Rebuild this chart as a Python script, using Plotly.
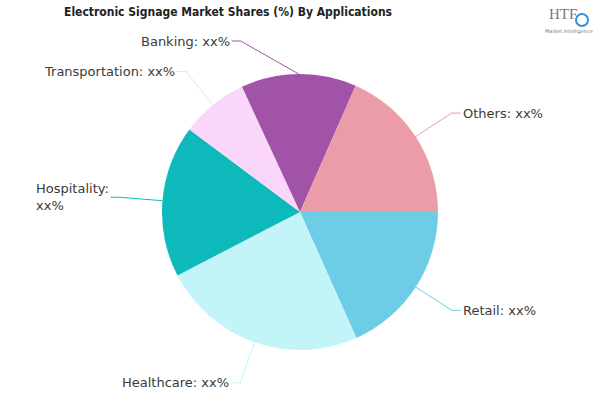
import math
import plotly.graph_objects as go

# ---- data ----
labels = ["Retail", "Healthcare", "Hospitality", "Transportation", "Banking", "Others"]
shares = [18.3, 24.1, 17.8, 7.9, 13.5, 18.4]
value_text = ["xx%", "xx%", "xx%", "xx%", "xx%", "xx%"]
colors = ["#6ecde6", "#c3f5f8", "#0eb9bc", "#fad7fa", "#a153a7", "#eb9ca8"]
title_text = "Electronic Signage Market Shares (%) By Applications"

# ---- layout constants (pixels) ----
W, H = 600, 400
CX, CY, R = 300, 212, 138
LABEL_R = 181          # radius of label circle
GAP = 9                # horizontal connector length
TOP_LIMIT = 41         # minimum label y
FONT = "DejaVu Sans, Verdana, sans-serif"
TXT_COLOR = "#3a3a3a"
CHAR_W = 7.4           # rough char width for wrapping


def px(x):
    return x / W


def py(y):
    return 1 - y / H


fig = go.Figure()
fig.add_trace(go.Pie(
    labels=labels,
    values=shares,
    sort=False,
    direction="clockwise",
    rotation=90,
    marker=dict(colors=colors, line=dict(width=0)),
    textinfo="none",
    hoverinfo="label+percent",
    showlegend=False,
    domain=dict(x=[px(CX - R), px(CX + R)], y=[py(CY + R), py(CY - R)]),
))

annotations = []
shapes = []
total = sum(shares)
cum = 0.0
for lab, v, vt, col in zip(labels, shares, value_text, colors):
    a0 = cum / total * 360
    cum += v
    a1 = cum / total * 360
    mid = math.radians((a0 + a1) / 2)
    ex = CX + R * math.cos(mid)
    ey = CY + R * math.sin(mid)
    ly = CY + LABEL_R * math.sin(mid)
    ly = max(ly, TOP_LIMIT)
    dx = math.sqrt(max(LABEL_R ** 2 - (ly - CY) ** 2, 0))
    right = math.cos(mid) >= 0
    lx = CX + dx if right else CX - dx
    tx = lx + GAP if right else lx - GAP
    text = f"{lab}: {vt}"
    avail = (W - tx - 5) if right else (tx - 5)
    if len(text) * CHAR_W > avail:
        text = f"{lab}:<br>{vt}"
    # connector
    shapes.append(dict(type="path", xref="paper", yref="paper",
                       path=f"M {px(ex)} {py(ey)} L {px(lx)} {py(ly)} L {px(tx)} {py(ly)}",
                       line=dict(color=col, width=1)))
    annotations.append(dict(x=px(tx), y=py(ly), xref="paper", yref="paper",
                            text=text, showarrow=False,
                            xanchor="left" if right else "right",
                            yanchor="middle", align="left",
                            font=dict(family=FONT, size=13, color=TXT_COLOR)))

# title
annotations.append(dict(x=px(228), y=py(12), xref="paper", yref="paper",
                        text=f"<b>{title_text}</b>", showarrow=False,
                        xanchor="center", yanchor="middle",
                        font=dict(family="Liberation Sans Narrow, DejaVu Sans Condensed, Roboto, sans-serif",
                                  size=12, color="#222222")))
# logo
annotations.append(dict(x=px(563), y=py(14), xref="paper", yref="paper",
                        text="HTF", showarrow=False, xanchor="center", yanchor="middle",
                        font=dict(family="Liberation Serif, serif", size=15, color="#777777")))
annotations.append(dict(x=px(569), y=py(32), xref="paper", yref="paper",
                        text="Market Intelligence", showarrow=False, xanchor="center", yanchor="middle",
                        font=dict(family="DejaVu Sans, sans-serif", size=5, color="#777777")))
shapes.append(dict(type="circle", xref="paper", yref="paper",
                   x0=px(576), x1=px(588), y0=py(26), y1=py(14),
                   line=dict(color="#3b8fd0", width=2)))

fig.update_layout(
    width=W, height=H,
    margin=dict(l=0, r=0, t=0, b=0),
    paper_bgcolor="white", plot_bgcolor="white",
    annotations=annotations, shapes=shapes,
)

fig.write_html("out.html", config={"displayModeBar": False},
               post_script="document.body.style.margin='0';")
